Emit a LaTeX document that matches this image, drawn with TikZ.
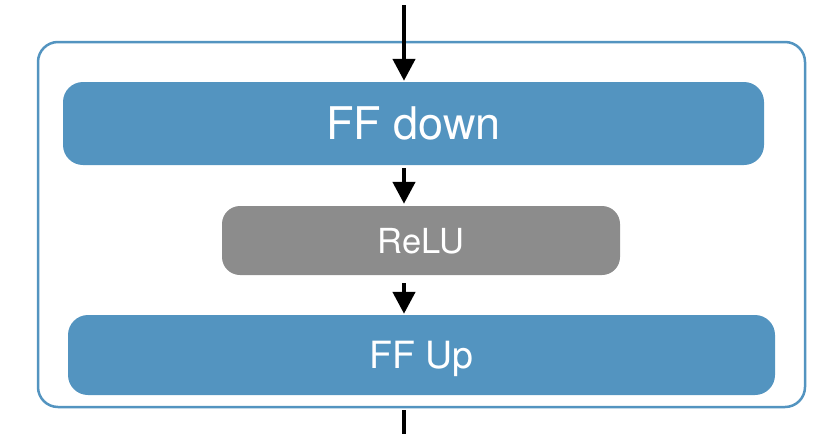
\documentclass[tikz,border=0pt]{standalone}
\usepackage{fontspec}
\setmainfont{TeX Gyre Heros}
\usetikzlibrary{arrows.meta}
\definecolor{ffblue}{HTML}{5394C0}
\definecolor{relugray}{HTML}{8C8C8C}
\tikzset{
  blockbox/.style={fill=ffblue, draw=none, rounded corners=20pt, inner sep=0pt, text=white, text depth=0pt},
  relubox/.style={fill=relugray, draw=none, rounded corners=18pt, inner sep=0pt, text=white, text depth=0pt},
  outerbox/.style={draw=ffblue, line width=2.5pt, rounded corners=20pt},
  flow/.style={line width=4.5pt, -{Triangle[width=22pt,length=22pt]}},
  plainline/.style={line width=4.5pt}
}
\begin{document}
\begin{tikzpicture}[x=1pt,y=-1pt]
\useasboundingbox (0,0) rectangle (837,434);
\draw[outerbox] (38,42) rectangle (805,407);
\node[blockbox, minimum width=701pt, minimum height=83pt, font=\fontsize{45}{45}\selectfont] (down) at (413.5,123.5) {FF down};
\node[relubox, minimum width=398pt, minimum height=69pt, font=\fontsize{34.5}{34.5}\selectfont] (relu) at (421,240.5) {ReLU};
\node[blockbox, minimum width=707pt, minimum height=80pt, font=\fontsize{37.5}{37.5}\selectfont] (up) at (421.5,355) {FF Up};
\coordinate (in) at (404,5);
\coordinate (out) at (404,434);
\coordinate (outstart) at (404,410);
\draw[flow, shorten >=1pt] (in) -- (in |- down.north);
\draw[flow, shorten <=3pt, shorten >=2pt] (in |- down.south) -- (in |- relu.north);
\draw[flow, shorten <=8pt, shorten >=1pt] (in |- relu.south) -- (in |- up.north);
\draw[plainline] (outstart) -- (out);
\end{tikzpicture}
\end{document}
